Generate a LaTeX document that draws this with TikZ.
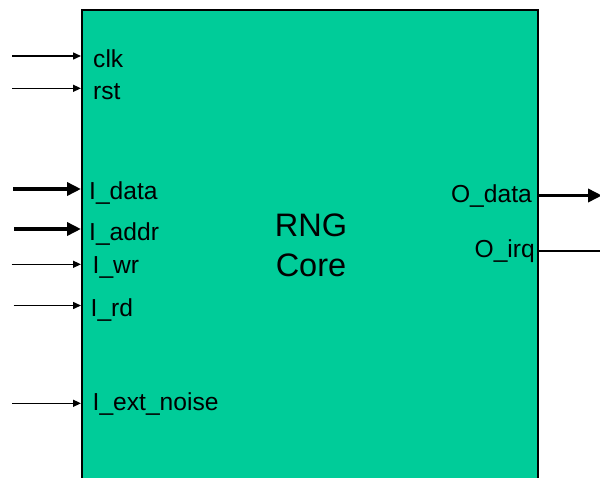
\documentclass[tikz,border=0pt]{standalone}
\usepackage{fontspec}
\setmainfont{Liberation Sans}
\usetikzlibrary{arrows.meta}
\definecolor{coregreen}{RGB}{0,204,153}
\tikzset{
  x=1pt, y=-1pt,
  corebox/.style={draw=black, fill=coregreen, line width=2pt, minimum width=456pt, minimum height=520pt, inner sep=0pt},
  lbl/.style={font=\fontsize{24.6}{28}\selectfont, inner sep=0pt, anchor=base west},
  rlbl/.style={font=\fontsize{24.6}{28}\selectfont, inner sep=0pt, anchor=base east},
  thinsig/.style={line width=1.5pt, -{Triangle[length=8pt,width=7pt]}},
  thicksig/.style={line width=3.5pt, -{Triangle[length=14pt,width=13pt]}},
  plainsig/.style={line width=1.5pt},
}
\begin{document}
\begin{tikzpicture}
\useasboundingbox (0,0) rectangle (600,477);
\clip (0,0) rectangle (600,477);
\node[corebox] (core) at (310,270) {};
\node[font=\fontsize{32.5}{40}\selectfont, align=center, inner sep=0pt] (title) at (311,245.5) {RNG\\Core};
% left labels
\node[lbl] (lclk) at (93,67) {clk};
\node[lbl] (lrst) at (93,99.5) {rst};
\node[lbl] (ldata) at (89,199) {I\_data};
\node[lbl] (laddr) at (89,240) {I\_addr};
\node[lbl] (lwr) at (92.5,273.5) {I\_wr};
\node[lbl] (lrd) at (90.5,316.5) {I\_rd};
\node[lbl] (lnoise) at (92.5,410.5) {I\_ext\_noise};
% right labels
\node[rlbl] (lodata) at (532,202) {O\_data};
\node[rlbl] (loirq) at (535,257) {O\_irq};
% free ends
\coordinate (sclk) at (12,56);
\coordinate (srst) at (12,88.3);
\coordinate (sdata) at (13,189);
\coordinate (saddr) at (14,229);
\coordinate (swr) at (11.5,264.3);
\coordinate (srd) at (13.5,305.5);
\coordinate (snoise) at (12,403.3);
\coordinate (eodata) at (602,195.5);
\coordinate (eoirq) at (602,251);
% connectors
\draw[thinsig] (sclk) -- (sclk -| core.west);
\draw[thinsig] (srst) -- (srst -| core.west);
\draw[thicksig] (sdata) -- (sdata -| core.west);
\draw[thicksig] (saddr) -- (saddr -| core.west);
\draw[thinsig] (swr) -- (swr -| core.west);
\draw[thinsig] (srd) -- (srd -| core.west);
\draw[thinsig] (snoise) -- (snoise -| core.west);
\draw[thicksig] (eodata -| core.east) -- (eodata);
\draw[plainsig] (eoirq -| core.east) -- (eoirq);
\end{tikzpicture}
\end{document}
